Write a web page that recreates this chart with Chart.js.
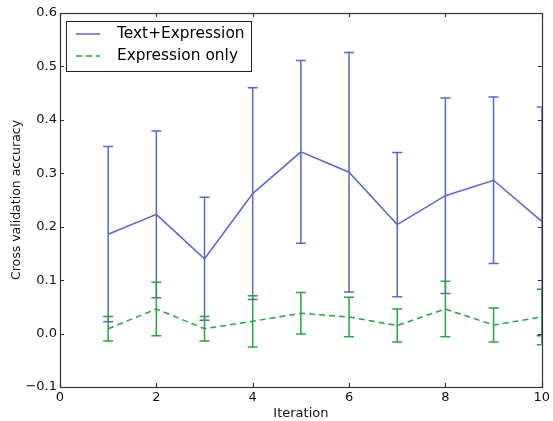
<!DOCTYPE html>
<html>
<head>
<meta charset="utf-8">
<script src="https://cdn.jsdelivr.net/npm/chart.js@4.4.1/dist/chart.umd.min.js"></script>
<style>
  html, body { margin: 0; padding: 0; background: #fff; }
</style>
</head>
<body>
<canvas id="cvChart" width="553" height="421"></canvas>
<script>
// values
var iterations = [1, 2, 3, 4, 5, 6, 7, 8, 9, 10];
var textExprMean = [0.186, 0.223, 0.140, 0.262, 0.340, 0.302, 0.204, 0.258, 0.287, 0.210];
var textExprErr  = [0.164, 0.156, 0.115, 0.198, 0.171, 0.224, 0.135, 0.183, 0.156, 0.214];
var exprOnlyMean = [0.009, 0.046, 0.009, 0.023, 0.038, 0.031, 0.015, 0.046, 0.016, 0.031];
var exprOnlyErr  = [0.023, 0.050, 0.023, 0.048, 0.039, 0.037, 0.031, 0.052, 0.032, 0.052];
var seriesNames = ['Text+Expression', 'Expression only'];

var BLUE = '#5c66c9';
var GREEN = '#2aa14a';
var FONT = 'DejaVu Sans';

function toPoints(xs, ys) {
  return xs.map(function (x, i) { return { x: x, y: ys[i] }; });
}

// error bars drawn right after their own line, through the chart's scales
var errorBars = {
  id: 'errorBars',
  afterDatasetDraw: function (chart, args) {
    var ds = chart.data.datasets[args.index];
    if (!ds.errors) return;
    var xs = chart.scales.x, ys = chart.scales.y, a = chart.chartArea;
    var ctx = chart.ctx;
    ctx.save();
    ctx.beginPath();
    ctx.rect(a.left, a.top, a.right - a.left, a.bottom - a.top);
    ctx.clip();
    ctx.strokeStyle = ds.borderColor;
    ctx.lineWidth = 1.5;
    ctx.setLineDash([]);
    ds.data.forEach(function (p, i) {
      var px = xs.getPixelForValue(p.x);
      var top = ys.getPixelForValue(p.y + ds.errors[i]);
      var bot = ys.getPixelForValue(p.y - ds.errors[i]);
      ctx.beginPath();
      ctx.moveTo(px, top); ctx.lineTo(px, bot);
      ctx.moveTo(px - 5, top); ctx.lineTo(px + 5, top);
      ctx.moveTo(px - 5, bot); ctx.lineTo(px + 5, bot);
      ctx.stroke();
    });
    ctx.restore();
  }
};

// matplotlib-like frame with inward ticks on all four sides
var frame = {
  id: 'frame',
  afterDraw: function (chart) {
    var ctx = chart.ctx, a = chart.chartArea;
    var xs = chart.scales.x, ys = chart.scales.y;
    ctx.save();
    ctx.strokeStyle = '#333';
    ctx.lineWidth = 1.2;
    ctx.setLineDash([]);
    ctx.strokeRect(Math.round(a.left) + 0.5, Math.round(a.top) + 0.5,
      Math.round(a.right - a.left), Math.round(a.bottom - a.top));
    ctx.beginPath();
    xs.ticks.forEach(function (t) {
      var px = Math.round(xs.getPixelForValue(t.value)) + 0.5;
      ctx.moveTo(px, a.bottom); ctx.lineTo(px, a.bottom - 4);
      ctx.moveTo(px, a.top); ctx.lineTo(px, a.top + 4);
    });
    ys.ticks.forEach(function (t) {
      var py = Math.round(ys.getPixelForValue(t.value)) + 0.5;
      ctx.moveTo(a.left, py); ctx.lineTo(a.left + 4, py);
      ctx.moveTo(a.right, py); ctx.lineTo(a.right - 4, py);
    });
    ctx.stroke();
    ctx.restore();
  }
};

// boxed legend in the upper left, inside the axes
var boxLegend = {
  id: 'boxLegend',
  afterDraw: function (chart) {
    var ctx = chart.ctx, a = chart.chartArea;
    var x0 = a.left + 6, y0 = a.top + 8, w = 185, h = 50;
    ctx.save();
    ctx.fillStyle = '#fff';
    ctx.fillRect(x0, y0, w, h);
    ctx.strokeStyle = '#222';
    ctx.lineWidth = 1;
    ctx.strokeRect(x0 + 0.5, y0 + 0.5, w, h);
    ctx.font = '15.4px "' + FONT + '"';
    ctx.textBaseline = 'middle';
    ctx.fillStyle = '#000';
    chart.data.datasets.forEach(function (ds, i) {
      var y = y0 + 13 + i * 22;
      ctx.strokeStyle = ds.borderColor;
      ctx.lineWidth = 1.5;
      ctx.setLineDash(ds.borderDash || []);
      ctx.beginPath();
      ctx.moveTo(x0 + 10, y); ctx.lineTo(x0 + 34, y);
      ctx.stroke();
      ctx.fillText(ds.label, x0 + 51, y);
    });
    ctx.restore();
  }
};

var ctx = document.getElementById('cvChart');
var chart = new Chart(ctx, {
  type: 'line',
  data: {
    datasets: [{
      label: seriesNames[0],
      data: toPoints(iterations, textExprMean),
      errors: textExprErr,
      borderColor: BLUE,
      borderWidth: 1.5,
      pointRadius: 0,
      tension: 0,
      order: 1
    }, {
      label: seriesNames[1],
      data: toPoints(iterations, exprOnlyMean),
      errors: exprOnlyErr,
      borderColor: GREEN,
      borderWidth: 1.5,
      borderDash: [6, 4],
      pointRadius: 0,
      tension: 0,
      order: 0
    }]
  },
  options: {
    responsive: false,
    animation: false,
    layout: { padding: { top: 13, right: 10, left: 9, bottom: 0 } },
    plugins: { legend: { display: false }, tooltip: { enabled: false } },
    scales: {
      x: {
        type: 'linear',
        min: 0, max: 10,
        grid: { display: false, drawTicks: false, tickLength: 0 },
        border: { display: false },
        ticks: { stepSize: 2, color: '#111', padding: 3, font: { family: FONT, size: 13 } },
        title: { display: true, text: 'Iteration', color: '#111', padding: 0, font: { family: FONT, size: 13 } },
        afterFit: function (s) { s.height = 34; }
      },
      y: {
        min: -0.1, max: 0.6,
        grid: { display: false, drawTicks: false, tickLength: 0 },
        border: { display: false },
        ticks: {
          stepSize: 0.1, color: '#111', padding: 3, font: { family: FONT, size: 13 },
          callback: function (v) {
            if (Math.abs(v) < 1e-9) return '0.0';
            return v < 0 ? '\u2212' + (-v).toFixed(1) : v.toFixed(1);
          }
        },
        title: { display: true, text: 'Cross validation accuracy', color: '#111', padding: 0, font: { family: FONT, size: 12.5 } },
        afterFit: function (s) { s.width = 51; }
      }
    }
  },
  plugins: [errorBars, frame, boxLegend]
});
</script>
</body>
</html>
